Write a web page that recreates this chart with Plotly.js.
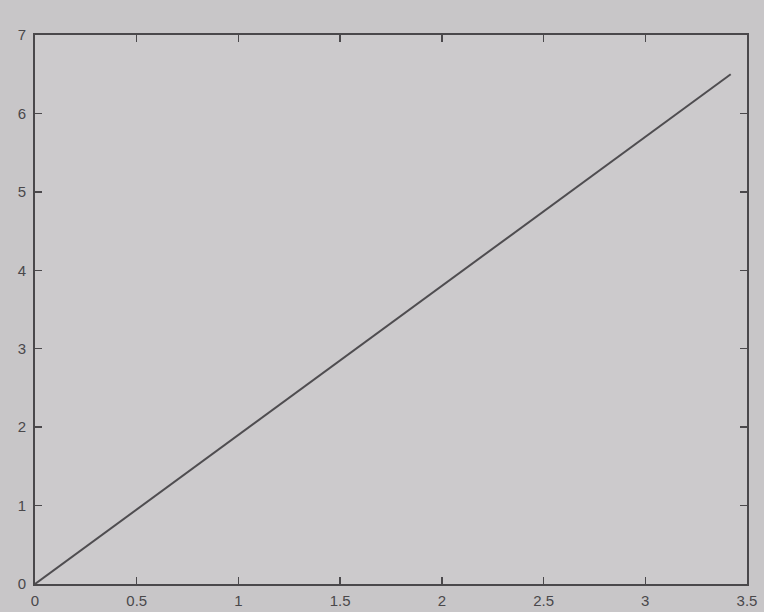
<!DOCTYPE html>
<html>
<head>
<meta charset="utf-8">
<script src="https://cdn.plot.ly/plotly-3.0.1.min.js"></script>
<style>html,body{margin:0;padding:0;background:#c8c6c8;}#chart{width:764px;height:612px;}</style>
</head>
<body>
<div id="chart"></div>
<script>
var xValues = [0, 3.42];
var yValues = [0, 6.5];
var xTickVals = [0, 0.5, 1, 1.5, 2, 2.5, 3, 3.5];
var xTickText = ["0", "0.5", "1", "1.5", "2", "2.5", "3", "3.5"];
var yTickVals = [0, 1, 2, 3, 4, 5, 6, 7];
var yTickText = ["0", "1", "2", "3", "4", "5", "6", "7"];

var trace = {
  x: xValues, y: yValues, type: 'scatter', mode: 'lines',
  line: {color: '#4f4d50', width: 2}, hoverinfo: 'skip'
};
var axisCommon = {
  showgrid: false, zeroline: false, showline: true, mirror: 'ticks',
  linecolor: '#4a484b', linewidth: 2, ticks: 'inside', ticklen: 7,
  tickcolor: '#4a484b', tickwidth: 1.5,
  tickfont: {family: 'Liberation Sans, Arial, sans-serif', size: 15, color: '#4a484b'}
};
var layout = {
  width: 764, height: 612,
  margin: {l: 35, r: 17, t: 35, b: 28},
  paper_bgcolor: '#c8c6c8', plot_bgcolor: '#cccacc',
  showlegend: false,
  xaxis: Object.assign({}, axisCommon, {range: [0, 3.5], tickmode: 'array', tickvals: xTickVals, ticktext: xTickText, ticklabelstandoff: 2}),
  yaxis: Object.assign({}, axisCommon, {range: [0, 7], tickmode: 'array', tickvals: yTickVals, ticktext: yTickText, ticklabelstandoff: 4})
};
Plotly.newPlot('chart', [trace], layout, {displayModeBar: false, staticPlot: true});
</script>
</body>
</html>
